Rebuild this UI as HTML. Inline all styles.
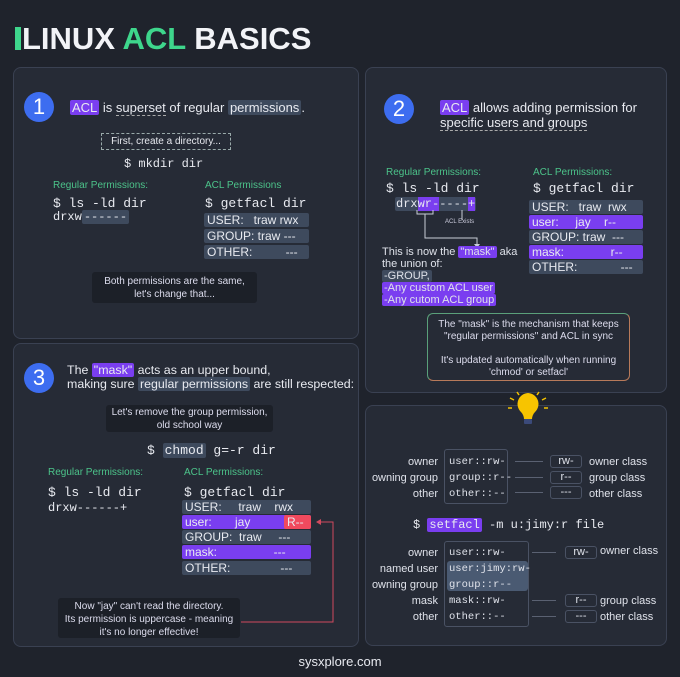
<!DOCTYPE html>
<html><head><meta charset="utf-8"><style>
*{margin:0;padding:0;box-sizing:border-box}
body{width:680px;height:677px;background:#1f232c;position:relative;overflow:hidden;font-family:"Liberation Sans",sans-serif;color:#e8eaf0}
div,span.a{position:absolute;white-space:nowrap}
.p{border:1px solid #3a4152;border-radius:8px;background:#262b36}
.c{width:30px;height:30px;border-radius:50%;background:#3d6df0;color:#fff;font-size:22px;text-align:center;line-height:30px}
.m{font-family:"Liberation Mono",monospace}
.g{color:#4cc38a;font-size:10px}
.pu{background:#7a3ef0;border-radius:2px;padding:0 2px}
.sl{background:#3e4a5d;border-radius:2px;padding:0 2px}
.row{background:#3e4a5d;border-radius:2px;font-size:12px;height:14px;line-height:14px;padding-left:3px}
.row.v{background:#7a3ef0}
.note{background:#1c2028;border-radius:3px;font-size:10px;text-align:center;line-height:13px;color:#dde}
.sm{font-size:11px;color:#dfe2ea}
.mm{font-family:"Liberation Mono",monospace;font-size:10.5px;color:#dfe2ea}
.bx{border:1px solid #4a5264;border-radius:3px}
.ar{height:1px;background:#5a6172}
</style></head><body>
<div style="left:15px;top:27px;width:6px;height:23px;background:#3ed68c"></div>
<div style="left:22px;top:21px;font-size:31px;font-weight:bold;color:#f2f3f7">LINUX <span style="color:#3ed68c">ACL</span> BASICS</div>

<!-- panel 1 -->
<div class="p" style="left:13px;top:67px;width:346px;height:272px"></div>
<div class="c" style="left:24px;top:92px">1</div>
<div style="left:70px;top:100px;font-size:13px"><span class="pu">ACL</span> is <span style="border-bottom:1px dashed #aaa">superset</span> of regular <span class="sl">permissions</span>.</div>
<div style="left:101px;top:133px;width:130px;height:17px;border:1px dashed #9aa;font-size:10px;line-height:15px;text-align:center">First, create a directory...</div>
<div class="m" style="left:124px;top:157px;font-size:12px">$ mkdir dir</div>
<div class="g" style="left:53px;top:180px">Regular Permissions:</div>
<div class="m" style="left:53px;top:196px;font-size:13px">$ ls -ld dir</div>
<div class="m" style="left:53px;top:210px;font-size:12px">drxw<span class="sl">------</span></div>
<div class="g" style="left:205px;top:180px">ACL Permissions</div>
<div class="m" style="left:205px;top:196px;font-size:13px">$ getfacl dir</div>
<div class="row" style="left:204px;top:213px;width:105px">USER:&nbsp;&nbsp;&nbsp;traw rwx</div>
<div class="row" style="left:204px;top:229px;width:105px">GROUP: traw ---</div>
<div class="row" style="left:204px;top:245px;width:105px">OTHER:&nbsp;&nbsp;&nbsp;&nbsp;&nbsp;&nbsp;&nbsp;&nbsp;&nbsp;&nbsp;---</div>
<div class="note" style="left:92px;top:272px;width:165px;height:31px;padding-top:3px">Both permissions are the same,<br>let's change that...</div>

<!-- panel 2 -->
<div class="p" style="left:365px;top:67px;width:302px;height:326px"></div>
<div class="c" style="left:384px;top:94px">2</div>
<div style="left:440px;top:100px;font-size:13px;line-height:15px"><span class="pu">ACL</span> allows adding permission for<br><span style="border-bottom:1px dashed #aaa">specific users and groups</span></div>
<div class="g" style="left:386px;top:167px">Regular Permissions:</div>
<div class="m" style="left:386px;top:181px;font-size:13px">$ ls -ld dir</div>
<div class="m" style="left:395px;top:197px;font-size:12px;background:#3e4a5d;border-radius:2px;padding:0 1px">drx<span style="background:#7a3ef0">wr-</span>----<span style="background:#7a3ef0">+</span></div>
<svg style="position:absolute;left:0;top:0" width="680" height="677"><g stroke="#c8ccd6" fill="none" stroke-width="1">
<path d="M417 210v4h16v-4"/><path d="M425 214v24h52v6"/><path d="M462 210v10"/></g>
<path d="M474 244l3 4l3-4z" fill="#c8ccd6"/></svg>
<div style="left:445px;top:219px;font-size:6px;color:#ccd">ACL Exists</div>
<div class="sm" style="left:382px;top:246px;line-height:12px">This is now the <span class="pu">"mask"</span> aka<br>the union of:<br><span class="sl">-GROUP,</span><br><span class="pu">-Any custom ACL user </span><br><span class="pu">-Any cutom ACL group </span></div>
<div class="g" style="left:533px;top:167px">ACL Permissions:</div>
<div class="m" style="left:533px;top:181px;font-size:13px">$ getfacl dir</div>
<div class="row" style="left:529px;top:200px;width:114px">USER:&nbsp;&nbsp;&nbsp;traw&nbsp;&nbsp;rwx</div>
<div class="row v" style="left:529px;top:215px;width:114px">user:&nbsp;&nbsp;&nbsp;&nbsp;&nbsp;jay&nbsp;&nbsp;&nbsp;&nbsp;r--</div>
<div class="row" style="left:529px;top:230px;width:114px">GROUP: traw&nbsp;&nbsp;---</div>
<div class="row v" style="left:529px;top:245px;width:114px">mask:&nbsp;&nbsp;&nbsp;&nbsp;&nbsp;&nbsp;&nbsp;&nbsp;&nbsp;&nbsp;&nbsp;&nbsp;&nbsp;&nbsp;r--</div>
<div class="row" style="left:529px;top:260px;width:114px">OTHER:&nbsp;&nbsp;&nbsp;&nbsp;&nbsp;&nbsp;&nbsp;&nbsp;&nbsp;&nbsp;&nbsp;&nbsp;&nbsp;---</div>
<div style="left:427px;top:313px;width:203px;height:68px;border:1px solid #7a8a6a;border-color:#5aa07a #b87a5a #b87a5a #5aa07a;border-radius:6px;font-size:10px;text-align:center;line-height:12px;padding-top:5px;color:#dde">The "mask" is the mechanism that keeps<br>"regular permissions" and ACL in sync<br><br>It's updated automatically when running<br>'chmod' or setfacl'</div>

<!-- panel 3 -->
<div class="p" style="left:13px;top:343px;width:346px;height:304px"></div>
<div class="c" style="left:24px;top:363px">3</div>
<div style="left:67px;top:363px;font-size:12.4px;line-height:14px">The <span class="pu">"mask"</span> acts as an upper bound,<br>making sure <span class="sl">regular permissions</span> are still respected:</div>
<div class="note" style="left:106px;top:405px;width:167px;height:27px;padding-top:1px">Let's remove the group permission,<br>old school way</div>
<div class="m" style="left:147px;top:443px;font-size:13px">$ <span class="sl">chmod</span> g=-r dir</div>
<div class="g" style="left:48px;top:467px">Regular Permissions:</div>
<div class="g" style="left:184px;top:467px">ACL Permissions:</div>
<div class="m" style="left:48px;top:485px;font-size:13px">$ ls -ld dir</div>
<div class="m" style="left:48px;top:501px;font-size:12px">drxw------+</div>
<div class="m" style="left:184px;top:485px;font-size:13px">$ getfacl dir</div>
<div class="row" style="left:182px;top:500px;width:129px">USER:&nbsp;&nbsp;&nbsp;&nbsp;&nbsp;traw&nbsp;&nbsp;&nbsp;&nbsp;rwx</div>
<div class="row v" style="left:182px;top:515px;width:129px">user:&nbsp;&nbsp;&nbsp;&nbsp;&nbsp;&nbsp;&nbsp;jay</div>
<div class="row" style="left:284px;top:515px;width:27px;background:#f04a5e">R--</div>
<div class="row" style="left:182px;top:530px;width:129px">GROUP:&nbsp;&nbsp;traw&nbsp;&nbsp;&nbsp;&nbsp;&nbsp;---</div>
<div class="row v" style="left:182px;top:545px;width:129px">mask:&nbsp;&nbsp;&nbsp;&nbsp;&nbsp;&nbsp;&nbsp;&nbsp;&nbsp;&nbsp;&nbsp;&nbsp;&nbsp;&nbsp;&nbsp;&nbsp;&nbsp;---</div>
<div class="row" style="left:182px;top:561px;width:129px">OTHER:&nbsp;&nbsp;&nbsp;&nbsp;&nbsp;&nbsp;&nbsp;&nbsp;&nbsp;&nbsp;&nbsp;&nbsp;&nbsp;&nbsp;&nbsp;---</div>
<svg style="position:absolute;left:0;top:0" width="680" height="677"><path d="M241 622H333V522H320" stroke="#d04a5e" fill="none"/><path d="M316 522l5-3v6z" fill="#d04a5e"/></svg>
<div class="note" style="left:58px;top:598px;width:182px;height:40px;padding-top:2px">Now "jay" can't read the directory.<br>Its permission is uppercase - meaning<br>it's no longer effective!</div>

<!-- panel 4 -->
<div class="p" style="left:365px;top:405px;width:302px;height:241px"></div>
<svg style="position:absolute;left:505px;top:390px" width="46" height="40"><g stroke="#f2c200" stroke-width="1.5"><path d="M5 8l4 2M41 8l-4 2M3 18h4M43 18h-4M12 2l2 3M34 2l-2 3"/></g><path d="M23 3a11 11 0 0 0-7 19c2 2 3 5 3 7h8c0-2 1-5 3-7a11 11 0 0 0-7-19z" fill="#f7c400"/><rect x="19" y="29" width="8" height="5" rx="1" fill="#3b4a7a"/></svg>
<div class="sm" style="left:365px;top:454px;width:73px;text-align:right;line-height:16px">owner<br>owning group<br>other</div>
<div class="bx" style="left:444px;top:449px;width:64px;height:55px"></div>
<div class="mm" style="left:449px;top:454px;line-height:16px">user::rw-<br>group::r--<br>other::--</div>
<div class="ar" style="left:515px;top:461px;width:28px"></div><div class="ar" style="left:515px;top:477px;width:28px"></div><div class="ar" style="left:515px;top:492px;width:28px"></div>
<div class="bx sm" style="left:550px;top:455px;width:32px;height:13px;line-height:11px;text-align:center">rw-</div>
<div class="bx sm" style="left:550px;top:471px;width:32px;height:13px;line-height:11px;text-align:center">r--</div>
<div class="bx sm" style="left:550px;top:486px;width:32px;height:13px;line-height:11px;text-align:center">---</div>
<div class="sm" style="left:589px;top:454px;line-height:16px">owner class<br>group class<br>other class</div>
<div class="m" style="left:413px;top:518px;font-size:12px">$ <span class="pu">setfacl</span> -m u:jimy:r file</div>
<div class="sm" style="left:365px;top:545px;width:73px;text-align:right;line-height:16px">owner<br>named user<br>owning group<br>mask<br>other</div>
<div class="bx" style="left:444px;top:541px;width:85px;height:86px"></div>
<div style="left:447px;top:561px;width:81px;height:30px;background:#4a5a72;border-radius:3px"></div>
<div class="mm" style="left:449px;top:545px;line-height:16px">user::rw-<br>user:jimy:rw-<br>group::r--<br>mask::rw-<br>other::--</div>
<div class="ar" style="left:532px;top:552px;width:24px"></div><div class="ar" style="left:532px;top:600px;width:24px"></div><div class="ar" style="left:532px;top:616px;width:24px"></div>
<div class="bx sm" style="left:565px;top:546px;width:32px;height:13px;line-height:11px;text-align:center">rw-</div>
<div class="bx sm" style="left:565px;top:594px;width:32px;height:13px;line-height:11px;text-align:center">r--</div>
<div class="bx sm" style="left:565px;top:610px;width:32px;height:13px;line-height:11px;text-align:center">---</div>
<div class="sm" style="left:600px;top:545px">owner class</div>
<div class="sm" style="left:600px;top:593px;line-height:16px">group class<br>other class</div>

<div style="left:0;top:654px;width:680px;text-align:center;font-size:13px;color:#e8eaf0">sysxplore.com</div>
</body></html>
